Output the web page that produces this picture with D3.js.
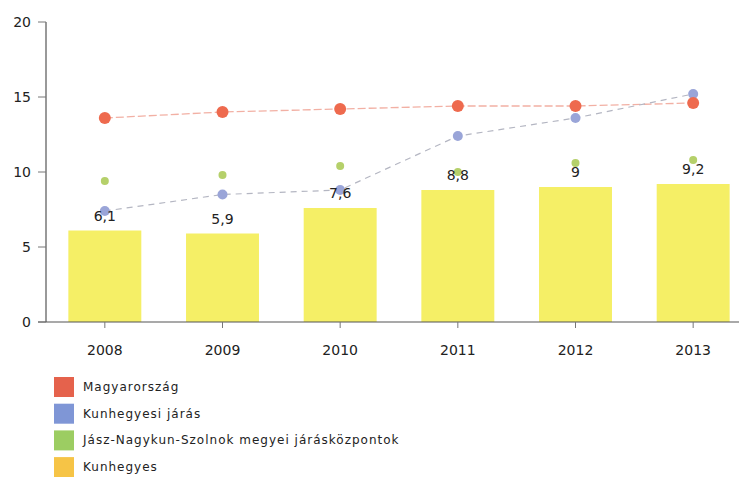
<!DOCTYPE html>
<html>
<head>
<meta charset="utf-8">
<script src="https://cdn.jsdelivr.net/npm/d3@7"></script>
<style>
  body { margin: 0; background: #fff; }
  text { font-family: "DejaVu Sans", Verdana, sans-serif; }
</style>
</head>
<body>
<div id="chart"></div>
<script>
var years = ['2008', '2009', '2010', '2011', '2012', '2013'];
var kunhegyes = [6.1, 5.9, 7.6, 8.8, 9, 9.2];
var magyarorszag = [13.6, 14.0, 14.2, 14.4, 14.4, 14.6];
var kunhegyesiJaras = [7.4, 8.5, 8.8, 12.4, 13.6, 15.2];
var jaraskozpontok = [9.4, 9.8, 10.4, 10.0, 10.6, 10.8];
var yTicks = [0, 5, 10, 15, 20];
var legendNames = ['Magyarország', 'Kunhegyesi járás',
                   'Jász-Nagykun-Szolnok megyei járásközpontok', 'Kunhegyes'];
var legendColors = ['#e5624c', '#7f96d6', '#9ccd62', '#f6c446'];

var width = 739, height = 477;
var plotLeft = 46, plotRight = 752, plotTop = 22, plotBottom = 322;

var svg = d3.select('#chart').append('svg')
  .attr('width', width)
  .attr('height', height);

var xScale = d3.scaleBand()
  .domain(years)
  .range([plotLeft, plotRight])
  .paddingInner(0.38)
  .paddingOuter(0.19);

var yScale = d3.scaleLinear()
  .domain([0, 20])
  .range([plotBottom, plotTop]);

function cx(i) { return xScale(years[i]) + xScale.bandwidth() / 2; }

// bars
svg.selectAll('rect.bar').data(kunhegyes)
  .enter().append('rect')
    .attr('class', 'bar')
    .attr('x', function(d, i) { return xScale(years[i]); })
    .attr('y', function(d) { return yScale(d); })
    .attr('width', xScale.bandwidth())
    .attr('height', function(d) { return plotBottom - yScale(d); })
    .style('fill', '#f5ef66');

// axes
svg.append('line')
  .attr('x1', plotLeft).attr('x2', plotLeft)
  .attr('y1', yScale(20)).attr('y2', plotBottom)
  .style('stroke', '#555').style('stroke-width', 1.2);
svg.append('line')
  .attr('x1', plotLeft - 8).attr('x2', width)
  .attr('y1', plotBottom).attr('y2', plotBottom)
  .style('stroke', '#555').style('stroke-width', 1.2);

svg.selectAll('line.ytick').data(yTicks)
  .enter().append('line')
    .attr('x1', plotLeft - 8).attr('x2', plotLeft)
    .attr('y1', function(d) { return yScale(d); })
    .attr('y2', function(d) { return yScale(d); })
    .style('stroke', '#777');
svg.selectAll('text.ylab').data(yTicks)
  .enter().append('text')
    .attr('x', 31)
    .attr('y', function(d) { return yScale(d) + 5; })
    .attr('text-anchor', 'end')
    .style('font-size', '14px')
    .style('fill', '#222')
    .text(function(d) { return d; });

svg.selectAll('line.xtick').data(years)
  .enter().append('line')
    .attr('x1', function(d, i) { return cx(i); })
    .attr('x2', function(d, i) { return cx(i); })
    .attr('y1', plotBottom).attr('y2', plotBottom + 6)
    .style('stroke', '#777');
svg.selectAll('text.xlab').data(years)
  .enter().append('text')
    .attr('x', function(d, i) { return cx(i); })
    .attr('y', 355)
    .attr('text-anchor', 'middle')
    .style('font-size', '14px')
    .style('fill', '#222')
    .text(function(d) { return d; });

// lines
var line = d3.line()
  .x(function(d, i) { return cx(i); })
  .y(function(d) { return yScale(d); });

svg.append('path').datum(magyarorszag)
  .attr('d', line)
  .style('fill', 'none')
  .style('stroke', '#f2b0a4')
  .style('stroke-width', 1.3)
  .style('stroke-dasharray', '8,3');
svg.append('path').datum(kunhegyesiJaras)
  .attr('d', line)
  .style('fill', 'none')
  .style('stroke', '#b4b6c2')
  .style('stroke-width', 1.2)
  .style('stroke-dasharray', '6,5');

svg.selectAll('circle.green').data(jaraskozpontok)
  .enter().append('circle')
    .attr('cx', function(d, i) { return cx(i); })
    .attr('cy', function(d) { return yScale(d); })
    .attr('r', 4)
    .style('fill', '#b5d06a');
svg.selectAll('circle.blue').data(kunhegyesiJaras)
  .enter().append('circle')
    .attr('cx', function(d, i) { return cx(i); })
    .attr('cy', function(d) { return yScale(d); })
    .attr('r', 5)
    .style('fill', '#9aa5d8');
svg.selectAll('circle.red').data(magyarorszag)
  .enter().append('circle')
    .attr('cx', function(d, i) { return cx(i); })
    .attr('cy', function(d) { return yScale(d); })
    .attr('r', 6)
    .style('fill', '#ee6a4e');

// bar value labels
svg.selectAll('text.val').data(kunhegyes)
  .enter().append('text')
    .attr('x', function(d, i) { return cx(i); })
    .attr('y', function(d) { return yScale(d) - 10; })
    .attr('text-anchor', 'middle')
    .style('font-size', '14px')
    .style('fill', '#222')
    .text(function(d) { return String(d).replace('.', ','); });

// legend
var legend = svg.selectAll('g.legend').data(legendNames)
  .enter().append('g')
    .attr('transform', function(d, i) { return 'translate(54,' + (377 + i * 26.7) + ')'; });
legend.append('rect')
  .attr('width', 20).attr('height', 20)
  .style('fill', function(d, i) { return legendColors[i]; });
legend.append('text')
  .attr('x', 29).attr('y', 14)
  .style('font-size', '12px')
  .style('letter-spacing', '1px')
  .style('fill', '#222')
  .text(function(d) { return d; });
</script>
</body>
</html>
